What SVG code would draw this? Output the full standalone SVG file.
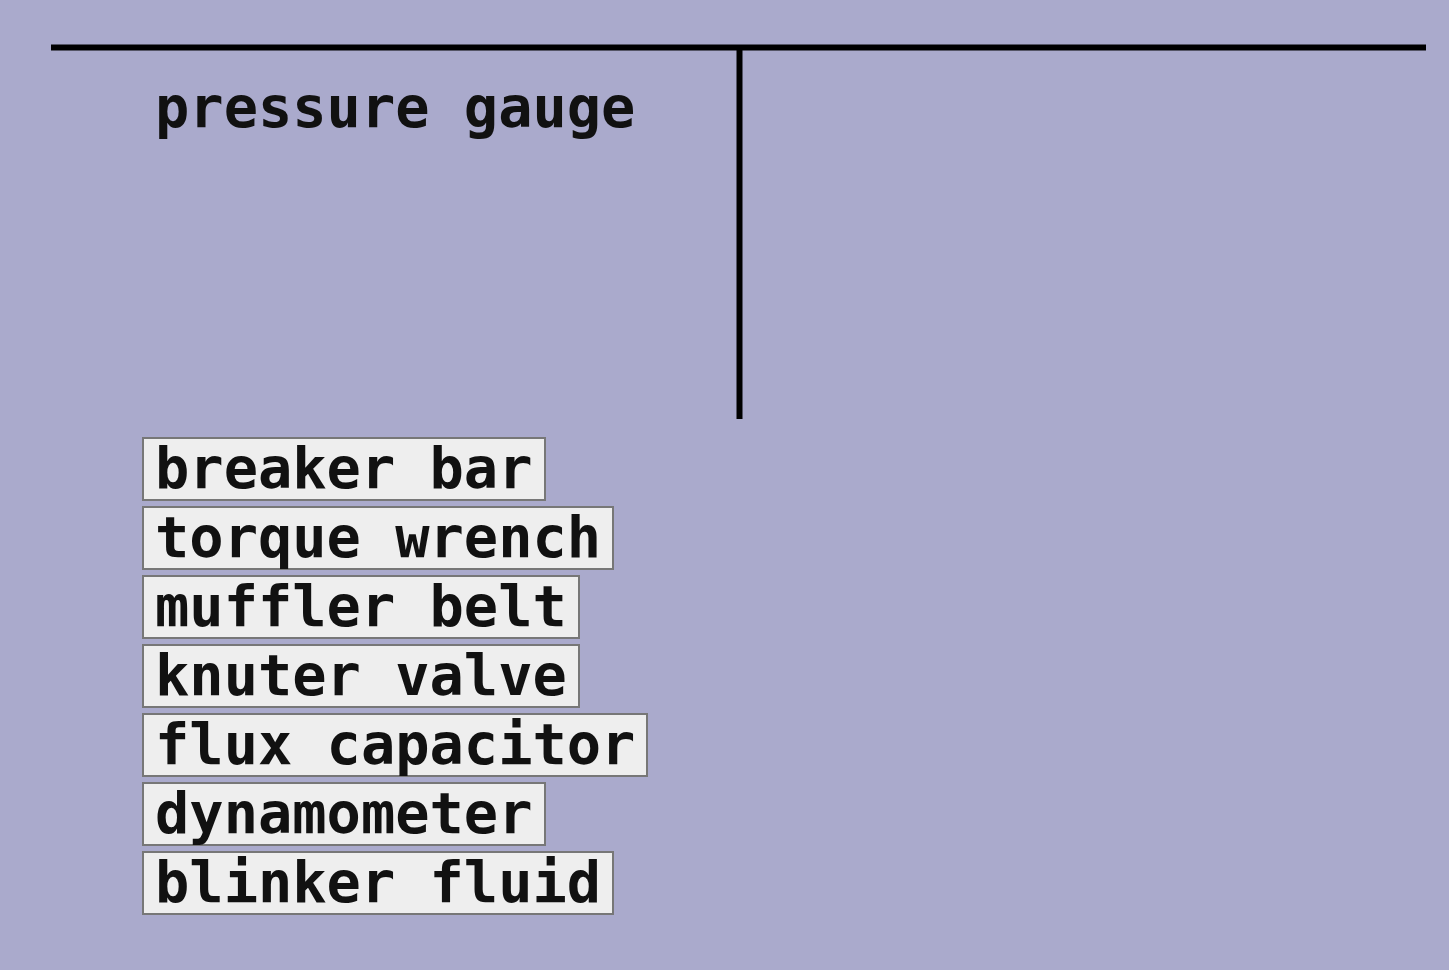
<svg xmlns="http://www.w3.org/2000/svg" width="1449" height="970" viewBox="0 0 1449 970">
<style>
.bg{fill:#aaaacc}
.ln{stroke:#000;stroke-width:6;fill:none}
.box{fill:#eeeeee;stroke:#777777;stroke-width:2}
.t{font-family:"DejaVu Sans Mono",monospace;font-weight:bold;font-size:57px;fill:#111111}
</style>
<rect class="bg" x="0" y="0" width="1449" height="970"/>
<g id="connectors">
<line class="ln" x1="51" y1="47.5" x2="1426" y2="47.5"/>
<line class="ln" x1="739.5" y1="47.5" x2="739.5" y2="419"/>
</g>
<g id="title"><text class="t" x="155" y="127">pressure gauge</text></g>
<g id="n1"><rect class="box" x="143" y="438" width="402" height="62"/><text class="t" x="155" y="488">breaker bar</text></g>
<g id="n2"><rect class="box" x="143" y="507" width="470" height="62"/><text class="t" x="155" y="557">torque wrench</text></g>
<g id="n3"><rect class="box" x="143" y="576" width="436" height="62"/><text class="t" x="155" y="626">muffler belt</text></g>
<g id="n4"><rect class="box" x="143" y="645" width="436" height="62"/><text class="t" x="155" y="695">knuter valve</text></g>
<g id="n5"><rect class="box" x="143" y="714" width="504" height="62"/><text class="t" x="155" y="764">flux capacitor</text></g>
<g id="n6"><rect class="box" x="143" y="783" width="402" height="62"/><text class="t" x="155" y="833">dynamometer</text></g>
<g id="n7"><rect class="box" x="143" y="852" width="470" height="62"/><text class="t" x="155" y="902">blinker fluid</text></g>
</svg>
